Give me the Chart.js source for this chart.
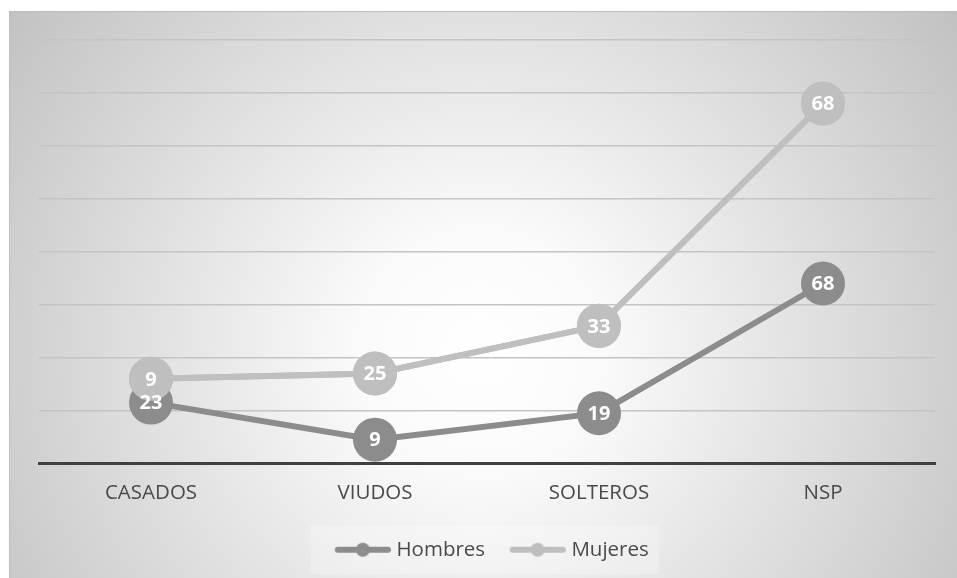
<!DOCTYPE html>
<html>
<head>
<meta charset="utf-8">
<script src="https://cdn.jsdelivr.net/npm/chart.js@4"></script>
<style>
  html, body { margin: 0; padding: 0; background: #ffffff; }
  #wrap {
    position: absolute; left: 9px; top: 11px;
    width: 947px; height: 566px;
    border-top: 1px solid #bdbdbd; border-left: 1px solid #bdbdbd;
  }
  canvas { display: block; }
</style>
</head>
<body>
<div id="wrap"><canvas id="chart" width="947" height="566"></canvas></div>
<script>
// datos
var categorias = ['CASADOS', 'VIUDOS', 'SOLTEROS', 'NSP'];
var hombres = [23, 9, 19, 68];
var mujeres = [9, 25, 33, 68];
var ejeMax = 160;
var ejePaso = 20;

var grisOscuro = '#8c8c8c';
var grisClaro = '#bfbfbf';
var colorTexto = '#4a4a4a';
var fuente = "'Open Sans', 'Noto Sans', sans-serif";

// marcador de leyenda: linea con circulo (a la derecha del lienzo)
function marcador(color) {
  var c = document.createElement('canvas');
  c.width = 65; c.height = 16;
  var g = c.getContext('2d');
  g.strokeStyle = color;
  g.lineWidth = 6;
  g.lineCap = 'round';
  g.beginPath(); g.moveTo(12, 8); g.lineTo(62, 8); g.stroke();
  g.fillStyle = color;
  g.beginPath(); g.arc(37, 8, 7, 0, Math.PI * 2); g.fill();
  return c;
}

var fondo = {
  id: 'fondo',
  beforeDraw: function(chart) {
    var ctx = chart.ctx, w = chart.width, h = chart.height;
    var grad = ctx.createRadialGradient(470, 340, 0, 470, 340, 620);
    grad.addColorStop(0, '#ffffff');
    grad.addColorStop(0.2, '#fafafa');
    grad.addColorStop(1, '#bdbdbd');
    ctx.save();
    ctx.fillStyle = grad;
    ctx.fillRect(0, 0, w, h);
    // recuadro claro detras de la leyenda
    var lg = chart.legend;
    if (lg && lg.legendHitBoxes && lg.legendHitBoxes.length) {
      var b = lg.legendHitBoxes;
      var x0 = b[0].left - 20, x1 = b[b.length - 1].left + b[b.length - 1].width + 10;
      ctx.fillStyle = 'rgba(255,255,255,0.25)';
      ctx.fillRect(x0, b[0].top - 14, x1 - x0, b[0].height + 28);
    }
    ctx.restore();
  }
};

// Mujeres se dibuja encima (como en el original) y luego los valores
var etiquetas = {
  id: 'etiquetas',
  afterDatasetsDraw: function(chart) {
    chart.getDatasetMeta(1).controller.draw();
    var ctx = chart.ctx;
    ctx.save();
    ctx.font = 'bold 20px ' + fuente;
    ctx.fillStyle = '#ffffff';
    ctx.textAlign = 'center';
    ctx.textBaseline = 'middle';
    chart.data.datasets.forEach(function(ds, i) {
      var meta = chart.getDatasetMeta(i);
      meta.data.forEach(function(pt, j) {
        ctx.fillText(String(ds.data[j]), pt.x, pt.y + 1);
      });
    });
    ctx.restore();
  }
};

var ctx = document.getElementById('chart').getContext('2d');
var chart = new Chart(ctx, {
  type: 'line',
  data: {
    labels: categorias,
    datasets: [{
      label: 'Hombres',
      data: hombres,
      borderColor: grisOscuro,
      backgroundColor: grisOscuro,
      pointBackgroundColor: grisOscuro,
      pointBorderWidth: 0,
      pointRadius: 22,
      borderWidth: 6,
      pointStyle: 'circle'
    }, {
      label: 'Mujeres',
      data: mujeres,
      borderColor: grisClaro,
      backgroundColor: grisClaro,
      pointBackgroundColor: grisClaro,
      pointBorderWidth: 0,
      pointRadius: 22,
      borderWidth: 6,
      pointStyle: 'circle'
    }]
  },
  options: {
    responsive: false,
    animation: false,
    layout: { padding: { left: 29, right: 17, top: 28, bottom: 8 } },
    scales: {
      x: {
        offset: true,
        grid: { display: false, drawTicks: false },
        border: { display: true, color: '#404040', width: 3 },
        ticks: { color: colorTexto, font: { family: fuente, size: 20.5 }, padding: 17 },
        afterFit: function(scale) { scale.height = 56; }
      },
      y: {
        stacked: true,
        min: 0,
        max: ejeMax,
        ticks: { display: false, stepSize: ejePaso },
        grid: { color: '#c4c4c4', lineWidth: 1.5, drawTicks: false },
        border: { display: false }
      }
    },
    plugins: {
      legend: {
        position: 'bottom',
        labels: {
          usePointStyle: true,
          pointStyleWidth: 56,
          padding: 20,
          color: colorTexto,
          font: { family: fuente, size: 20.5 },
          generateLabels: function(chart) {
            return chart.data.datasets.map(function(ds, i) {
              return {
                text: ds.label,
                pointStyle: marcador(ds.borderColor),
                fillStyle: ds.borderColor,
                strokeStyle: ds.borderColor,
                lineWidth: 0,
                fontColor: colorTexto,
                datasetIndex: i,
                hidden: false
              };
            });
          }
        }
      },
      tooltip: { enabled: false }
    }
  },
  plugins: [fondo, etiquetas]
});
</script>
</body>
</html>
